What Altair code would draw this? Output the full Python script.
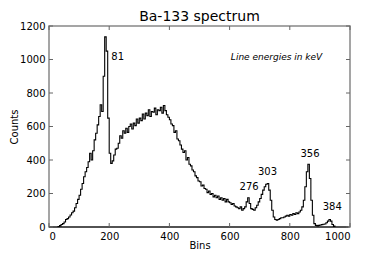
import altair as alt
import pandas as pd

bin_width = 5
counts = [
    0, 0, 0, 0, 0, 0, 3, 8, 15, 20, 30, 45, 50, 60, 72, 85, 95, 115, 140, 165,
    190, 225, 260, 300, 330, 355, 390, 440, 400, 455, 520, 560, 610, 660, 730, 690, 900, 1135, 1050, 650,
    440, 380, 395, 430, 465, 470, 500, 545, 530, 575, 560, 590, 565, 600, 615, 585, 620, 605, 645, 620,
    650, 635, 675, 645, 680, 665, 700, 660, 690, 685, 710, 670, 700, 695, 715, 680, 725, 695, 670, 655,
    640, 615, 605, 565, 575, 525, 515, 490, 465, 445, 455, 400, 415, 375, 365, 340, 330, 305, 295, 275,
    270, 245, 250, 230, 225, 205, 215, 195, 200, 180, 190, 175, 185, 165, 175, 160, 170, 150, 165, 150,
    145, 135, 140, 125, 120, 115, 110, 120, 100, 110, 120, 150, 175, 140, 110, 105, 100, 115, 130, 150,
    170, 195, 220, 240, 255, 260, 220, 160, 100, 60, 45, 40, 45, 50, 55, 55, 60, 65, 70, 65,
    75, 70, 80, 75, 85, 80, 90, 100, 120, 160, 240, 330, 375, 290, 160, 70, 20, 10, 8, 10,
    12, 14, 16, 18, 25, 35, 45, 35, 15, 5, 0, 0, 0, 0, 0, 0, 0, 0, 0, 0,
]
bins = [i * bin_width for i in range(len(counts))]

label_text = ["81", "276", "303", "356", "384"]
label_bin = [228, 665, 726, 867, 941]
label_count = [1017, 237, 326, 436, 118]

note_text = ["Line energies in keV"]
note_bin = [756]
note_count = [1017]

x_ticks = [0, 200, 400, 600, 800, 1000]
y_ticks = [0, 200, 400, 600, 800, 1000, 1200]

W, H = 301, 201
FONT = "DejaVu Sans"

spec = pd.DataFrame({"bin": bins, "count": counts})
labels = pd.DataFrame({"t": label_text, "b": label_bin, "c": label_count})
note = pd.DataFrame({"t": note_text, "b": note_bin, "c": note_count})
xt = pd.DataFrame({"v": x_ticks})
yt = pd.DataFrame({"v": y_ticks})

xscale = alt.Scale(domain=[0, 1000], nice=False)
yscale = alt.Scale(domain=[0, 1200], nice=False)

xaxis = alt.Axis(values=x_ticks, format="d", labelOverlap=False, tickSize=0, labelPadding=4,
                 domain=False, grid=False,
                 labelFont=FONT, labelFontSize=10, labelColor="black",
                 titleFont=FONT, titleFontSize=10, titleFontWeight="normal", titleColor="black",
                 titleX=W / 2, titleY=18, titleBaseline="middle")
yaxis = alt.Axis(values=y_ticks, format="d", labelOverlap=False, tickSize=0, labelPadding=4,
                 domain=False, grid=False,
                 labelFont=FONT, labelFontSize=10, labelColor="black",
                 titleFont=FONT, titleFontSize=10, titleFontWeight="normal", titleColor="black",
                 titleX=-35, titleY=H / 2, titleBaseline="middle", titleAngle=270)


def X(field):
    return alt.X(field, scale=xscale, axis=xaxis, title="Bins")


def Y(field):
    return alt.Y(field, scale=yscale, axis=yaxis, title="Counts")


hist = alt.Chart(spec).mark_area(interpolate="step-after", fillOpacity=0, stroke="black", strokeWidth=1.1).encode(
    x=X("bin:Q"), y=Y("count:Q"))

txt = alt.Chart(labels).mark_text(font=FONT, fontSize=10, color="black", align="center", baseline="middle").encode(
    x=X("b:Q"), y=Y("c:Q"), text="t:N")
nt = alt.Chart(note).mark_text(font=FONT, fontSize=9, fontStyle="italic", color="black", align="center", baseline="middle").encode(
    x=X("b:Q"), y=Y("c:Q"), text="t:N")

tick_style = dict(color="#666", strokeWidth=1)
xb = alt.Chart(xt).mark_rule(**tick_style).encode(x=X("v:Q"), y=alt.value(H), y2=alt.value(H - 4))
xtop = alt.Chart(xt).mark_rule(**tick_style).encode(x=X("v:Q"), y=alt.value(0), y2=alt.value(4))
yl = alt.Chart(yt).mark_rule(**tick_style).encode(y=Y("v:Q"), x=alt.value(0), x2=alt.value(4))
yr = alt.Chart(yt).mark_rule(**tick_style).encode(y=Y("v:Q"), x=alt.value(W), x2=alt.value(W - 4))

chart = alt.layer(hist, txt, nt, xb, xtop, yl, yr).properties(
    width=W, height=H,
    title=alt.Title("Ba-133 spectrum", font=FONT, fontSize=14, fontWeight="normal", color="black",
                    offset=3, dy=6),
    autosize=alt.AutoSizeParams(type="none"),
    padding={"left": 41, "top": 18, "right": 30, "bottom": 32},
).configure_view(stroke="#888", strokeWidth=1.5)

chart.save("out.html", embed_options={"renderer": "svg", "actions": False})
